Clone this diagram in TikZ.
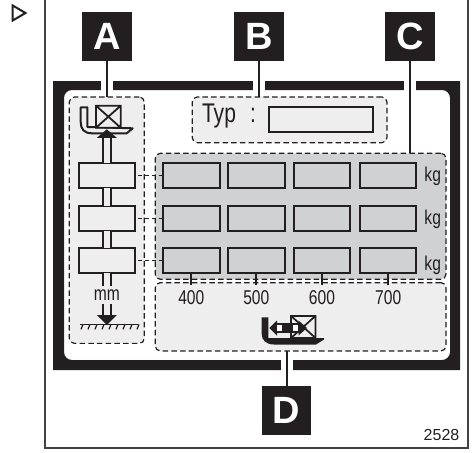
\documentclass[tikz,border=0pt]{standalone}
\usepackage{fontspec}
\setmainfont{Liberation Sans}
\newfontfamily\narrowfont[FakeStretch=0.78]{Liberation Sans}
\usetikzlibrary{calc}
\definecolor{inkblack}{HTML}{231F20}
\definecolor{panellight}{HTML}{EEEEEE}
\definecolor{paneldark}{HTML}{D0D1D3}

\begin{document}
\begin{tikzpicture}[
  x=1pt, y=-1pt,
  letterbox/.style={fill=inkblack, text=white, inner sep=0pt, outer sep=0pt, minimum size=49.4pt, font=\fontsize{38}{38}\selectfont\bfseries},
  panel/.style={fill=#1, draw=inkblack, line width=1.2pt, dash pattern=on 5.5pt off 3.2pt, rounded corners=5pt, inner sep=0pt, outer sep=0pt, preaction={draw=white, solid, line width=1.4pt}},
  field/.style={fill=#1, draw=inkblack, line width=2pt, inner sep=0pt, outer sep=0pt, minimum width=56.4pt, minimum height=25.4pt},
  txt/.style={anchor=base, inner sep=0pt, outer sep=0pt, text=inkblack, font=\narrowfont\fontsize{20}{20}\selectfont},
  lead/.style={draw=inkblack, line width=1.8pt},
  stem/.style={draw=inkblack, line width=2pt, double=panellight, double distance=6.4pt},
  dashlink/.style={draw=inkblack, line width=1.2pt, dash pattern=on 4pt off 3pt, shorten <=3pt, shorten >=1pt},
]
  \useasboundingbox (0,0) rectangle (476,452);

  % Marker and outer frame
  \draw[inkblack, line width=2pt, line join=miter] (12.7,5.5) -- (25.5,13) -- (12.7,20.5) -- cycle;
  \draw[inkblack!85, line width=1.6pt] (44.7,0) -- (44.7,447.7) -- (467.7,447.7) -- (467.7,0);

  % Display band
  \fill[inkblack, even odd rule] (53,81) rectangle (460,370)
    [rounded corners=8pt] (64,90) rectangle (450,360);
  \fill[white] (101,80) rectangle (113,91);
  \fill[white] (252.7,80) rectangle (264.7,91);
  \fill[white] (403.7,80) rectangle (416,91);
  \fill[white] (281,359) rectangle (292.7,371);

  % Panels
  \node[panel=panellight, minimum width=75pt, minimum height=246.3pt] (pana) at (106.8,220.2) {};
  \node[panel=panellight, minimum width=194.7pt, minimum height=45.7pt] (panb) at (289.6,119.8) {};
  \node[panel=paneldark, minimum width=290.7pt, minimum height=126pt] (panc) at (300.6,216.3) {};
  \node[panel=panellight, minimum width=290.7pt, minimum height=68.3pt] (pand) at (300.6,316.8) {};

  % Letters
  \node[letterbox] (laba) at (107,36.3) {A};
  \node[letterbox] (labb) at (259,36.3) {B};
  \node[letterbox] (labc) at (410,36.3) {C};
  \node[letterbox] (labd) at (286.7,410.3) {D};
  \draw[lead] (laba.south) -- (laba.south |- pana.north);
  \draw[lead] (labb.south) -- (labb.south |- panb.north);
  \draw[lead] (labc.south) -- (labc.south |- panc.north);
  \draw[lead] (labd.north) -- (labd.north |- pand.south);

  % Type field
  \node[txt, font=\narrowfont\fontsize{27}{27}\selectfont] (typ) at (219,122.7) {Typ};
  \node[txt, font=\narrowfont\fontsize{27}{27}\selectfont] (typcolon) at (253,122.7) {:};
  \node[field=panellight, minimum width=103.7pt, minimum height=25.4pt] (typbox) at (321,119.7) {};

  % Height boxes
  \foreach \r/\y in {1/175.3, 2/218.3, 3/260.3}
    \node[field=panellight] (box\r) at (106.8,\y) {};

  % Capacity grid
  \foreach \r/\y in {1/175.3, 2/218.3, 3/260.3}
    \foreach \c/\x in {1/191.3, 2/256.3, 3/322, 4/388.2}
      \node[field=paneldark] (cell\r\c) at (\x,\y) {};
  \foreach \r in {1,2,3}
    \draw[dashlink] (box\r.east) -- (cell\r1.west);
  \node[txt] (kga) at (432.7,181) {kg};
  \node[txt] (kgb) at (432.7,224) {kg};
  \node[txt] (kgc) at (432.7,270) {kg};

  % Distance scale
  \foreach \c/\v in {1/400, 2/500, 3/600, 4/700} {
    \node[txt] (dist\c) at ($(cell3\c.south)+(0,31.5)$) {\v};
    \draw[lead] (cell3\c.south) -- ++(0,11.5);
  }

  % Mast column
  \coordinate (uphead) at (106.8,137.7);
  \coordinate (stemend) at (106.8,285.7);
  \coordinate (stemtop) at (106.8,304);
  \coordinate (downhead) at (106.8,316);
  \node[txt] (mmlabel) at (106.8,300) {mm};
  \draw[stem] (uphead) -- (box1.north);
  \draw[stem] (box1.south) -- (box2.north);
  \draw[stem] (box2.south) -- (box3.north);
  \draw[stem] (box3.south) -- (stemend);
  \draw[stem] (stemtop) -- (downhead);

  % Lift icon
  \draw[inkblack, line width=2pt, fill=panellight, line join=round] (80.7,107.3) -- (87.3,107.3) -- (87.3,127) -- (132.7,128.3) -- (126.7,133.3) -- (92,133.3) .. controls (84,133.3) and (80.7,129) .. (80.7,122) -- cycle;
  \draw[inkblack, line width=1.8pt, fill=panellight] (96,105.7) rectangle (120.7,127.7) (96,105.7) -- (120.7,127.7) (120.7,105.7) -- (96,127.7);
  \fill[inkblack] (106.8,129.3) -- (116.8,137.9) -- (96.8,137.9) -- cycle;

  % Ground
  \fill[inkblack] (96.8,315) -- (116.8,315) -- (106.8,325) -- cycle;
  \draw[inkblack, line width=1.6pt] (80,324.3) -- (137.7,324.3);
  \foreach \x in {83,90,...,139}
    \draw[inkblack, line width=1.2pt] (\x,324.3) -- ++(-2,5);

  % Reach icon
  \fill[inkblack] (261.7,317.3) -- (268.3,317.3) -- (268.3,338) -- (324,338) -- (324,339.5) -- (316,344.5) -- (274,344.5) .. controls (266,344.5) and (261.7,340) .. (261.7,334) -- cycle;
  \draw[inkblack, line width=1.7pt] (291,315.9) rectangle (315.5,338) (291,315.9) -- (315.5,338) (315.5,315.9) -- (291,338);
  \fill[inkblack] (269.3,328) -- (277,320.5) -- (277,335.5) -- cycle;
  \fill[inkblack] (307,328) -- (298.5,320.5) -- (298.5,335.5) -- cycle;
  \fill[inkblack] (276,322.7) rectangle (299,332.7);
  \fill[white] (277,325.2) rectangle (282,330.7);
  \fill[white] (292.7,325.2) rectangle (298,330.7);

  % Drawing number
  \node[txt, font=\fontsize{16}{16}\selectfont] (drawno) at (441.5,440) {2528};
\end{tikzpicture}
\end{document}
